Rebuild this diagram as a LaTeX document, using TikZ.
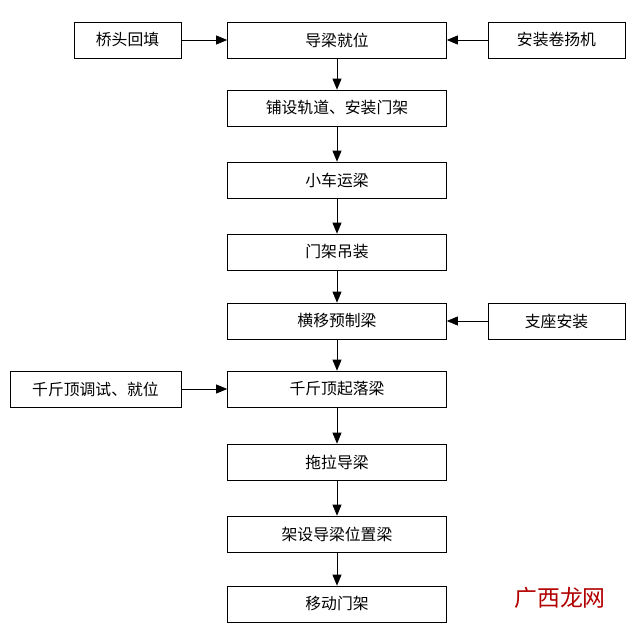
\documentclass[tikz,border=0pt]{standalone}
\usepackage{fontspec}
\setmainfont{Noto Sans CJK SC}
\usetikzlibrary{arrows.meta}
\tikzstyle{stage}=[rectangle,draw=black,thin,minimum width=4.38cm,minimum height=0.72cm,inner sep=0pt]
\tikzstyle{side}=[rectangle,draw=black,thin,minimum height=0.72cm,inner sep=0pt]
\tikzstyle{flow}=[-{Triangle[length=2.2mm,width=1.8mm]},black,thin]

\begin{document}
\begin{tikzpicture}[x=0.02cm,y=-0.02cm,font=\fontsize{9}{11}\selectfont]
  \useasboundingbox (0,0) rectangle (640,625);
  \node at (337, 40) [stage] (Guide) {导梁就位};
  \node at (337,108) [stage] (Track) {铺设轨道、安装门架};
  \node at (337,180) [stage] (Cart) {小车运梁};
  \node at (337,252) [stage] (Hoist) {门架吊装};
  \node at (337,321) [stage] (Shift) {横移预制梁};
  \node at (337,389) [stage] (Jack) {千斤顶起落梁};
  \node at (337,462) [stage] (Pull) {拖拉导梁};
  \node at (337,534) [stage] (Erect) {架设导梁位置梁};
  \node at (337,604) [stage] (Move) {移动门架};
  \node at (127.5, 40) [side,minimum width=2.14cm] (Fill) {桥头回填};
  \node at (556.5, 40) [side,minimum width=2.74cm] (Winch) {安装卷扬机};
  \node at (556.5,321) [side,minimum width=2.74cm] (Bearing) {支座安装};
  \node at (95.5,389) [side,minimum width=3.42cm] (JackSet) {千斤顶调试、就位};
  \draw [flow] (Guide) to (Track);
  \draw [flow] (Track) to (Cart);
  \draw [flow] (Cart) to (Hoist);
  \draw [flow] (Hoist) to (Shift);
  \draw [flow] (Shift) to (Jack);
  \draw [flow] (Jack) to (Pull);
  \draw [flow] (Pull) to (Erect);
  \draw [flow] (Erect) to (Move);
  \draw [flow] (Fill) to (Guide);
  \draw [flow] (Winch) to (Guide);
  \draw [flow] (Bearing) to (Shift);
  \draw [flow] (JackSet) to (Jack);
  \node at (560,598) [text=red!70!black,font=\fontsize{13}{15}\selectfont] (Mark) {广西龙网};
\end{tikzpicture}
\end{document}
